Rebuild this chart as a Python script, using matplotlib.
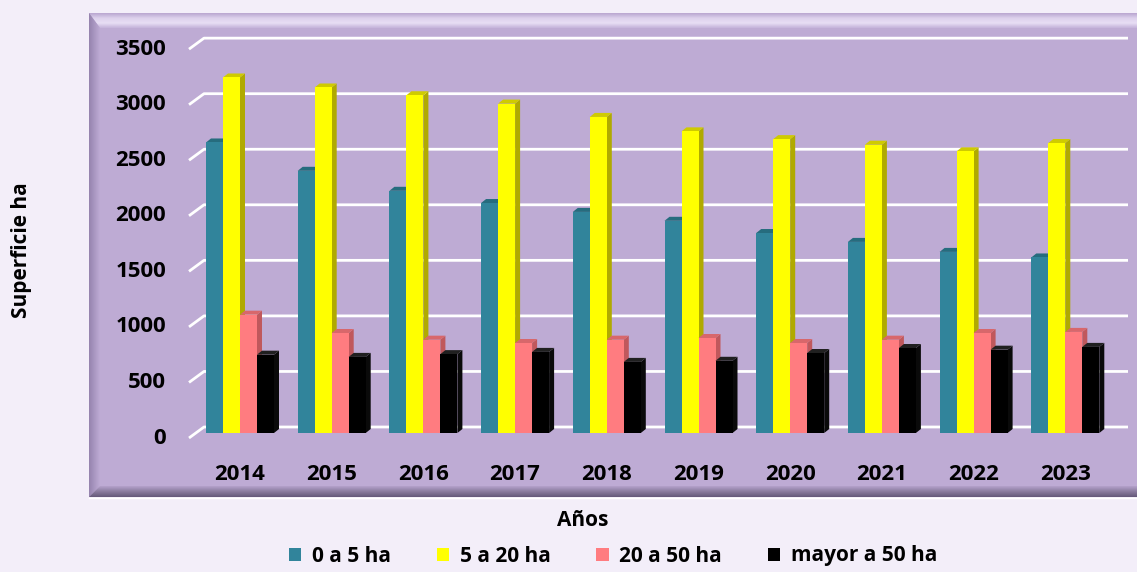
import numpy as np
import matplotlib
matplotlib.use("Agg")
import matplotlib.pyplot as plt
import matplotlib.patches as patches

plt.rcParams['font.family'] = ['Open Sans', 'DejaVu Sans']
plt.rcParams['font.weight'] = 'bold'

# data
years = ["2014", "2015", "2016", "2017", "2018", "2019", "2020", "2021", "2022", "2023"]
s_0_5 = [2615, 2360, 2180, 2070, 1990, 1910, 1800, 1720, 1630, 1580]
s_5_20 = [3200, 3110, 3040, 2965, 2845, 2715, 2645, 2595, 2535, 2610]
s_20_50 = [1065, 900, 840, 810, 840, 855, 810, 840, 900, 910]
s_50 = [705, 685, 710, 730, 640, 650, 720, 765, 750, 775]
series_names = ["0 a 5 ha", "5 a 20 ha", "20 a 50 ha", "mayor a 50 ha"]
yticks = [0, 500, 1000, 1500, 2000, 2500, 3000, 3500]

front_cols = ["#31849B", "#FFFF00", "#FF7C80", "#000000"]
side_cols = ["#215E6E", "#B0AA00", "#C0585C", "#0A0A0A"]
top_cols = ["#266C7E", "#CFCB00", "#D8676B", "#202020"]

W, H = 1137, 572
fig = plt.figure(figsize=(W / 100, H / 100), dpi=100)
fig.patch.set_facecolor("#F3EEF9")

# background panel with bevel, in pixel coordinates
bg = fig.add_axes([0, 0, 1, 1], zorder=-5)
bg.set_xlim(0, W)
bg.set_ylim(H, 0)
bg.axis('off')
L, R, T, B = 89, 1140, 13, 497
bw = 11
th = 15
bg.add_patch(patches.Rectangle((L, T), R - L, B - T, facecolor="#BEABD4", linewidth=0))


def band(poly, colors, extent, vertical=True):
    clip = patches.Polygon(poly, closed=True, facecolor='none', linewidth=0)
    bg.add_patch(clip)
    g = np.linspace(0, 1, 64)
    g = g.reshape(-1, 1) if vertical else g.reshape(1, -1)
    cm = matplotlib.colors.LinearSegmentedColormap.from_list("b", colors)
    im = bg.imshow(g, cmap=cm, extent=extent, aspect='auto', zorder=2, interpolation='bilinear')
    im.set_clip_path(clip)


# top bevel (light highlight)
band([(L, T), (R, T), (R, T + th), (L + bw, T + th)],
     ["#B9A6D0", "#DCD0EC", "#E8DEF5", "#C4B3DA"], (L, R, T + th, T))
# left bevel
band([(L, T), (L + bw, T + th), (L + bw, B - bw), (L, B)],
     ["#9583AE", "#BEABD4"], (L, L + bw, B, T), vertical=False)
# bottom bevel (dark shadow)
band([(L, B), (L + bw, B - bw), (R, B - bw), (R, B)],
     ["#B5A2CB", "#8A7B9E", "#65597A"], (L, R, B, B - bw))
bg.plot([L, R], [B + 1, B + 1], color="#FFFFFF", lw=1, zorder=3)

# chart axes: pixel geometry -> data scale
px_cat = 91.7      # pixels per category
px_val = 0.1111    # pixels per unit
x0_px, y0_px = 240, 433   # first category centre, value zero (bar front)
ax_l, ax_r, ax_t, ax_b = 160, 1130, 20, 445
ax = fig.add_axes([ax_l / W, 1 - ax_b / H, (ax_r - ax_l) / W, (ax_b - ax_t) / H])
ax.set_facecolor('none')
ax.set_xlim((ax_l - x0_px) / px_cat, (ax_r - x0_px) / px_cat)
ax.set_ylim((y0_px - ax_b) / px_val, (y0_px - ax_t) / px_val)
for sp in ax.spines.values():
    sp.set_visible(False)
ax.set_yticks([])

# 3D offsets
back_dy = 6 / px_val
front_dy = -5 / px_val
wall_l = (189 - x0_px) / px_cat
wall_r = (204 - x0_px) / px_cat
grid_r = (1128 - x0_px) / px_cat
for v in yticks:
    ax.plot([wall_l, wall_r, grid_r], [v + front_dy, v + back_dy, v + back_dy],
            color="white", lw=2, zorder=1, solid_capstyle='butt')
    ax.text((166 - x0_px) / px_cat, v + front_dy, str(v), ha='right', va='center',
            fontsize=16, fontweight='bold', color="black")

x = np.arange(len(years))
w = 17 / px_cat
offsets = [-1.5 * w, -0.5 * w, 0.5 * w, 1.5 * w]
dx = 5 / px_cat
dy = 4 / px_val
handles = []
for k, vals in enumerate([s_0_5, s_5_20, s_20_50, s_50]):
    xs = x + offsets[k]
    for xi, v in zip(xs, vals):
        xr = xi + w / 2
        xl = xi - w / 2
        ax.add_patch(patches.Polygon([(xr, 0), (xr + dx, dy), (xr + dx, v + dy), (xr, v)],
                                     closed=True, facecolor=side_cols[k], linewidth=0, zorder=2 + 2 * k))
        ax.add_patch(patches.Polygon([(xl, v), (xl + dx, v + dy), (xr + dx, v + dy), (xr, v)],
                                     closed=True, facecolor=top_cols[k], linewidth=0, zorder=2 + 2 * k))
    b = ax.bar(xs, vals, width=w, color=front_cols[k], linewidth=0, zorder=3 + 2 * k,
               label=series_names[k])
    handles.append(b)

ax.set_xticks(x, years)
ax.tick_params(axis='x', length=0, pad=14, labelsize=16)
for t in ax.get_xticklabels():
    t.set_fontweight('bold')

fig.text(583 / W, 1 - 521 / H, "Años", ha='center', va='center', fontsize=15, fontweight='bold')
fig.text(22 / W, 1 - 250 / H, "Superficie ha", ha='center', va='center', rotation=90,
         fontsize=15, fontweight='bold')

fig.legend(handles, series_names, loc='center', bbox_to_anchor=(613 / W, 1 - 556 / H), ncol=4,
           frameon=False, handlelength=0.6, handleheight=0.6, handletextpad=0.5,
           columnspacing=2.2, prop={'size': 15, 'weight': 'bold'})

fig.savefig("out.png", dpi=100, facecolor=fig.get_facecolor())
